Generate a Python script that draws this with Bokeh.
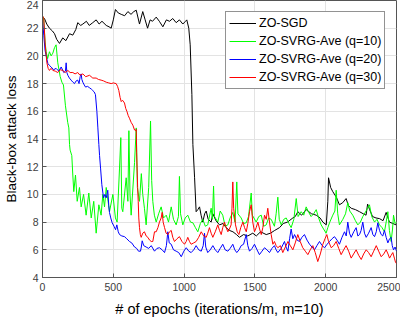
from bokeh.plotting import figure
from bokeh.models import FixedTicker, Legend, LegendItem, Range1d
from bokeh.embed import file_html
from bokeh.resources import INLINE

x_ticks = [0, 500, 1000, 1500, 2000, 2500]
y_ticks = [4, 6, 8, 10, 12, 14, 16, 18, 20, 22, 24]
labels = ["ZO-SGD", "ZO-SVRG-Ave (q=10)", "ZO-SVRG-Ave (q=20)", "ZO-SVRG-Ave (q=30)"]

sgd = [(0,22.8),(14,22.7),(30,22.3),(49,22.0),(70,21.8),(85,21.6),(100,21.2),(120,20.9),(143,21.3),(165,21.1),
       (191,21.6),(214,21.5),(235,21.9),(249,22.4),(270,22.2),(285,22.3),(310,22.5),(330,22.2),(355,22.4),(379,22.6),
       (400,22.3),(420,22.5),(450,22.2),(470,22.1),(485,22.0),(500,22.6),(515,23.35),(535,23.1),(556,23.0),(580,22.9),
       (603,23.2),(625,23.0),(645,23.2),(662,23.3),(685,22.3),(708,23.2),(725,22.6),(742,22.0),(760,22.6),(777,22.5),
       (803,22.8),(825,22.5),(850,22.1),(875,22.6),(897,22.5),(920,22.7),(944,22.4),(967,22.6),(991,22.3),(1010,22.5),
       (1019,22.6),(1033,22.0),(1043,20.8),(1055,17.2),(1062,13.6),(1074,11.2),(1085,8.75),(1097,8.9),(1109,9.1),(1120,8.5),
       (1132,8.0),(1145,8.6),(1156,8.8),(1170,8.2),(1191,8.0),(1203,8.6),(1225,8.1),(1250,7.8),(1275,7.9),(1297,7.6),
       (1320,7.4),(1345,7.3),(1370,7.1),(1391,6.9),(1420,7.1),(1450,7.0),(1485,7.2),(1510,7.0),(1540,7.3),(1580,7.1),
       (1610,7.2),(1640,7.4),(1674,7.6),(1700,7.9),(1730,8.0),(1768,8.3),(1785,8.4),(1803,8.75),(1830,8.5),(1862,8.9),
       (1900,8.6),(1933,8.5),(1960,8.3),(1980,8.0),(2004,7.8),(2015,9.5),(2020,11.2),(2035,10.5),(2050,10.2),(2075,9.8),
       (2097,9.25),(2120,9.4),(2144,9.7),(2160,9.2),(2180,9.0),(2210,8.9),(2239,8.75),(2265,8.6),(2285,8.5),(2296,9.3),
       (2310,8.9),(2331,8.4),(2355,8.3),(2380,8.25),(2405,8.1),(2427,8.7),(2450,8.0),(2474,7.9),(2497,7.8)]

svrg_q10 = [(0,22.9),(9,22.6),(18,21.0),(26,20.3),(36,19.8),(49,20.3),(61,20.0),(73,20.2),(85,20.6),(96,20.8),
       (108,19.5),(125,18.5),(137,18.1),(148,17.9),(162,16.4),(178,15.2),(186,14.8),(191,13.6),(195,13.2),(207,12.8),
       (214,11.4),(221,10.2),(233,11.4),(245,9.5),(261,10.5),(273,9.1),(290,10.0),(308,8.5),(327,10.1),(344,8.3),
       (362,9.5),(379,7.2),(398,9.25),(414,8.5),(426,10.0),(438,9.1),(450,10.5),(473,8.75),(497,10.0),(515,8.3),
       (527,8.0),(544,11.9),(553,14.1),(560,9.0),(567,8.75),(591,11.2),(603,9.5),(610,14.6),(618,10.0),(626,8.5),
       (650,12.3),(662,14.8),(670,10.5),(685,9.5),(698,11.5),(708,10.0),(720,9.0),(732,7.8),(750,10.5),(763,15.3),
       (771,11.0),(779,9.5),(790,8.5),(803,8.0),(820,8.6),(838,9.1),(855,8.3),(874,8.5),(890,8.0),(909,9.1),
       (925,8.2),(944,7.8),(960,8.4),(967,11.3),(975,8.6),(991,7.8),(1008,8.3),(1026,8.5),(1045,8.0),(1062,7.95),
       (1080,7.6),(1097,7.3),(1115,7.9),(1132,8.2),(1150,7.7),(1167,7.8),(1191,9.0),(1200,8.2),(1208,10.6),(1215,8.4),
       (1238,8.0),(1255,8.8),(1273,8.5),(1290,7.7),(1309,7.8),(1325,8.3),(1344,8.7),(1360,8.0),(1372,10.9),(1380,8.6),
       (1403,8.3),(1420,7.9),(1439,7.95),(1455,8.4),(1474,10.1),(1482,8.5),(1509,8.0),(1527,8.4),(1545,8.5),(1562,7.7),
       (1580,7.8),(1597,8.3),(1615,8.2),(1638,7.7),(1650,8.6),(1662,9.8),(1672,8.2),(1686,7.8),(1704,8.2),(1721,8.3),
       (1740,7.9),(1756,7.6),(1775,8.2),(1792,9.7),(1805,8.4),(1827,8.75),(1845,8.5),(1862,9.1),(1880,8.7),(1897,8.4),
       (1915,8.6),(1933,8.9),(1950,8.3),(1968,7.8),(1985,7.5),(2003,7.2),(2015,7.6),(2027,7.95),(2050,8.5),(2065,8.8),
       (2074,10.3),(2085,8.6),(2097,7.8),(2121,8.2),(2140,8.6),(2156,9.4),(2170,8.8),(2191,8.5),(2210,8.1),(2227,7.8),
       (2245,8.0),(2262,8.4),(2285,8.8),(2309,9.25),(2325,8.4),(2345,8.0),(2362,8.2),(2380,7.8),(2398,7.6),(2415,7.3),
       (2427,8.0),(2439,8.75),(2450,7.4),(2462,6.6),(2472,7.5),(2479,8.5),(2490,7.9),(2500,8.0)]

svrg_q20 = [(0,22.6),(9,21.5),(18,20.4),(26,20.0),(38,19.45),(50,19.3),(61,19.2),(78,19.0),(96,19.1),(115,18.9),
       (132,19.2),(150,18.8),(162,18.9),(167,19.5),(172,18.8),(179,18.6),(190,18.4),(202,18.25),(215,18.1),(226,18.0),
       (238,18.2),(249,18.25),(258,18.0),(266,18.5),(273,18.7),(278,18.3),(285,18.1),(295,17.9),(304,17.75),(318,17.8),
       (332,17.7),(345,17.6),(355,17.5),(365,17.4),(374,17.2),(384,16.0),(391,14.8),(398,13.6),(403,12.8),(410,11.9),
       (419,10.7),(431,9.75),(440,10.0),(450,9.75),(461,10.3),(468,9.2),(473,8.7),(482,8.3),(492,7.95),(505,7.7),
       (516,7.45),(525,7.8),(535,7.3),(544,7.1),(560,7.0),(579,6.95),(595,6.8),(614,6.6),(630,6.5),(650,6.2),
       (665,6.1),(678,5.9),(692,5.9),(698,6.2),(704,6.65),(715,6.3),(732,6.2),(750,6.1),(768,6.3),(791,5.9),
       (808,6.1),(826,6.15),(845,6.0),(862,5.8),(875,6.3),(885,7.3),(895,6.5),(909,6.4),(925,6.0),(944,5.9),
       (962,5.8),(980,5.5),(998,5.9),(1015,6.15),(1033,5.9),(1050,5.8),(1068,6.0),(1085,6.3),(1103,6.0),(1121,5.9),
       (1135,6.3),(1144,7.2),(1153,6.2),(1167,5.8),(1185,6.0),(1203,6.3),(1220,6.0),(1238,5.8),(1255,6.1),(1273,6.4),
       (1290,6.0),(1309,5.9),(1325,6.1),(1344,6.4),(1358,6.0),(1372,5.8),(1388,6.0),(1403,6.3),(1420,6.4),(1439,7.1),
       (1450,6.3),(1462,5.9),(1480,6.1),(1497,6.4),(1515,6.0),(1532,5.65),(1550,5.9),(1568,6.15),(1585,6.0),(1603,5.8),
       (1620,6.1),(1638,6.3),(1650,6.0),(1662,5.8),(1685,6.1),(1709,6.6),(1720,6.2),(1733,5.9),(1745,6.8),(1756,7.5),
       (1768,6.8),(1780,7.1),(1798,6.7),(1815,6.6),(1832,6.9),(1850,7.1),(1868,6.7),(1886,6.4),(1903,6.2),(1921,6.0),
       (1938,6.3),(1956,6.6),(1975,6.3),(1992,6.15),(2010,6.4),(2027,6.6),(2045,6.8),(2062,6.95),(2080,6.7),(2097,6.4),
       (2115,6.9),(2133,7.3),(2145,7.0),(2156,8.0),(2168,7.2),(2180,6.9),(2198,7.3),(2215,7.6),(2227,7.0),(2239,7.1),
       (2250,7.4),(2262,8.0),(2274,7.2),(2286,6.9),(2303,7.2),(2321,7.6),(2333,7.1),(2345,6.95),(2357,7.3),(2368,7.95),
       (2380,7.4),(2392,7.1),(2403,7.0),(2415,7.4),(2427,6.9),(2439,6.5),(2451,6.8),(2462,6.9),(2470,6.3),(2479,6.0),
       (2490,6.2),(2500,5.9)]

svrg_q30 = [(0,22.9),(9,22.7),(19,20.8),(31,19.5),(40,19.1),(49,18.95),(60,19.1),(73,18.95),(90,18.9),(108,18.8),
       (125,19.0),(143,18.95),(160,18.8),(179,18.95),(195,18.8),(214,18.8),(230,18.7),(249,18.8),(265,18.6),(285,18.7),
       (305,18.5),(332,18.6),(355,18.4),(379,18.4),(395,18.3),(414,18.25),(430,18.2),(450,18.1),(468,18.05),(485,18.0),
       (500,18.05),(520,18.0),(530,17.8),(539,17.5),(548,17.0),(556,16.7),(565,16.8),(579,16.6),(588,16.2),(596,16.0),
       (605,15.7),(614,15.5),(626,15.2),(638,15.0),(650,14.65),(658,14.6),(662,14.7),(665,13.0),(668,11.9),(672,10.5),
       (676,9.5),(680,8.3),(685,7.6),(691,7.1),(697,6.9),(708,7.2),(720,7.3),(732,7.0),(744,6.9),(756,6.7),
       (768,6.6),(779,6.6),(791,7.3),(803,7.3),(815,7.6),(826,8.0),(838,8.3),(845,8.7),(852,8.0),(862,7.6),
       (873,7.2),(885,7.1),(897,7.3),(909,7.4),(920,6.9),(932,6.6),(950,6.8),(967,6.95),(985,6.6),(1003,6.4),
       (1015,6.6),(1026,6.9),(1038,6.6),(1050,6.4),(1068,6.5),(1085,6.6),(1103,6.9),(1121,7.3),(1138,7.0),(1156,6.9),
       (1167,7.2),(1179,7.6),(1191,7.2),(1203,6.9),(1220,7.3),(1238,7.8),(1250,7.4),(1262,7.1),(1273,7.6),(1285,8.0),
       (1297,7.6),(1309,7.3),(1320,7.5),(1332,7.8),(1338,9.0),(1344,10.9),(1350,9.0),(1363,7.8),(1375,7.3),(1387,7.1),
       (1400,7.6),(1415,8.0),(1427,7.6),(1439,7.3),(1450,7.9),(1462,8.75),(1474,9.25),(1485,8.0),(1497,7.3),(1509,7.6),
       (1521,8.0),(1533,7.5),(1545,7.1),(1556,7.6),(1568,8.5),(1580,8.2),(1591,9.0),(1603,8.0),(1615,7.1),(1627,6.4),
       (1638,6.6),(1650,6.3),(1662,6.15),(1680,6.3),(1697,5.8),(1715,6.2),(1733,6.6),(1750,6.3),(1768,6.0),(1785,6.5),
       (1803,7.1),(1820,6.6),(1838,6.15),(1856,5.9),(1874,5.65),(1891,6.0),(1909,6.3),(1926,5.8),(1944,5.15),(1962,5.7),
       (1980,6.4),(1995,6.8),(2008,7.1),(2020,6.6),(2039,6.15),(2056,6.3),(2074,6.6),(2092,6.1),(2109,5.65),(2127,6.0),
       (2144,6.3),(2162,5.9),(2180,5.4),(2197,5.7),(2215,6.0),(2233,5.6),(2251,5.3),(2268,5.7),(2286,6.0),(2303,5.8),
       (2321,5.5),(2339,5.9),(2357,6.3),(2374,5.9),(2392,5.5),(2410,5.7),(2427,6.0),(2440,5.7),(2451,5.4),(2462,5.6),
       (2474,5.8),(2485,5.4),(2493,5.1),(2500,5.0)]

series = [sgd, svrg_q10, svrg_q20, svrg_q30]
colors = ["#000000", "#00ff00", "#0000ff", "#ff0000"]

FONT = "Liberation Sans"
AXC = "#555555"
TXT = "#404040"

p = figure(frame_width=354, frame_height=277,
           x_range=Range1d(0, 2500), y_range=Range1d(4, 24),
           output_backend="svg", toolbar_location=None,
           min_border_left=0, min_border_right=4, min_border_top=0, min_border_bottom=0)

p.background_fill_color = "white"
p.outline_line_color = AXC

for ax, ticks in ((p.xaxis[0], x_ticks), (p.yaxis[0], y_ticks)):
    ax.ticker = FixedTicker(ticks=ticks)
    ax.major_tick_in = 4
    ax.major_tick_out = 0
    ax.minor_tick_line_color = None
    ax.axis_line_color = AXC
    ax.major_tick_line_color = AXC
    ax.major_label_text_font = FONT
    ax.major_label_text_font_size = "10.5px"
    ax.major_label_text_color = TXT
    ax.axis_label_text_font = FONT
    ax.axis_label_text_font_style = "normal"
    ax.axis_label_text_color = "#000000"

p.xaxis.major_label_standoff = 5
p.xaxis.axis_label_standoff = 7
p.xaxis.axis_label_text_font_size = "14.5px"
p.yaxis.major_label_standoff = 4
p.yaxis.axis_label_standoff = 5
p.yaxis.axis_label_text_font_size = "13.5px"

p.xaxis.axis_label = "# of epochs (iterations/m, m=10)"
p.yaxis.axis_label = "Black-box attack loss"

p.xgrid.ticker = FixedTicker(ticks=x_ticks)
p.ygrid.ticker = FixedTicker(ticks=y_ticks)
p.grid.grid_line_color = "#e3e3e3"
p.grid.grid_line_width = 1

items = []
for data, col, lab in zip(series, colors, labels):
    xs = [d[0] for d in data]
    ys = [d[1] for d in data]
    r = p.line(xs, ys, line_color=col, line_width=1)
    items.append(LegendItem(label=lab, renderers=[r]))

legend = Legend(items=items, location=(183, 188))
legend.label_text_font = FONT
legend.label_text_font_size = "12.5px"
legend.label_text_color = "#000000"
legend.glyph_width = 27
legend.glyph_height = 16
legend.label_height = 16
legend.label_standoff = 3
legend.spacing = 2
legend.padding = 3
legend.margin = 0
legend.border_line_color = "#262626"
legend.border_line_width = 1
legend.background_fill_color = "white"
legend.background_fill_alpha = 1
p.add_layout(legend)

open("out.html", "w").write(file_html(p, INLINE))
